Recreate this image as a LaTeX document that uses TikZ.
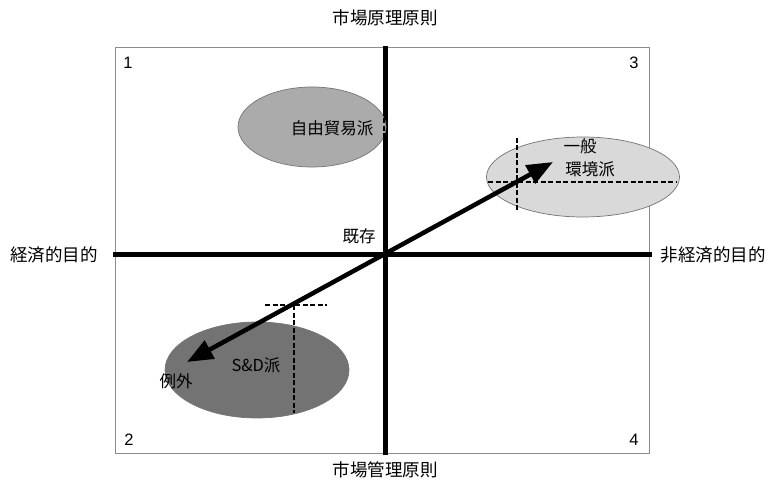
\documentclass[tikz,border=0pt]{standalone}
\usepackage{fontspec}
\setmainfont{Liberation Sans}
\newfontfamily\jp{Noto Sans CJK JP}
\usetikzlibrary{shapes.geometric,arrows.meta}
\begin{document}
\begin{tikzpicture}[x=1pt,y=-1pt,
  lbl/.style={font=\jp\fontsize{17.5}{20}\selectfont, inner sep=0pt},
  inlbl/.style={font=\jp\fontsize{16.5}{19}\selectfont, inner sep=0pt},
  num/.style={font=\fontsize{16.5}{18}\selectfont, inner sep=0pt},
  blob/.style={ellipse, draw=black!55, line width=0.7pt, inner sep=0pt},
  axis/.style={line width=5pt, black},
  guide/.style={line width=2pt, black, dash pattern=on 5pt off 2.5pt},
  frame/.style={draw=black!45, line width=0.9pt}]
\useasboundingbox (0,0) rectangle (772,484);
% frame
\draw[frame] (115,47) rectangle (649,453);
% axes
\coordinate (vt) at (385,46);
\coordinate (vb) at (385,455);
\coordinate (hl) at (113,255);
\coordinate (hr) at (652,255);
\draw[axis] (vt) -- (vb);
\draw[axis] (hl) -- (hr);
% ellipses
\node[blob, fill=black!33, minimum width=148pt, minimum height=80pt] (ft) at (312,127) {};
\node[blob, fill=black!15, minimum width=193pt, minimum height=80pt] (env) at (583,177) {};
\node[blob, fill=black!55, minimum width=184pt, minimum height=96pt] (sd) at (257,370) {};
% dashed guides
\coordinate (ft1) at (384,96);
\coordinate (ft2) at (384,163);
\draw[guide] (ft1) -- (ft2);
\coordinate (e1) at (488,182);
\coordinate (e2) at (677,182);
\coordinate (e3) at (517,138);
\coordinate (e4) at (517,211);
\draw[guide] (e1) -- (e2);
\draw[guide] (e3) -- (e4);
\coordinate (s1) at (265,305);
\coordinate (s2) at (327,305);
\coordinate (s3) at (294,305);
\coordinate (s4) at (294,413);
\draw[guide] (s1) -- (s2);
\draw[guide] (s3) -- (s4);
% arrow
\coordinate (aL) at (187,362);
\coordinate (aR) at (553,162);
\draw[line width=4.5pt, {Triangle[length=26pt,width=20pt]}-{Triangle[length=26pt,width=20pt]}] (aL) -- (aR);
% labels
\node[lbl] (top) at (385,18) {市場原理原則};
\node[lbl] (bot) at (385,470) {市場管理原則};
\node[lbl] (left) at (54,255) {経済的目的};
\node[lbl] (right) at (713,255) {非経済的目的};
\node[inlbl] (kz) at (359,236) {既存};
\node[inlbl] (ftl) at (332,128) {自由貿易派};
\node[inlbl] (ip) at (580,146) {一般};
\node[inlbl] (kk) at (590,169) {環境派};
\node[inlbl] (sdl) at (256,365) {S\&D派};
\node[inlbl] (rg) at (176,381) {例外};
\node[num] (n1) at (128,63) {1};
\node[num] (n3) at (634,63) {3};
\node[num] (n2) at (129,440) {2};
\node[num] (n4) at (634,440) {4};
\end{tikzpicture}
\end{document}
